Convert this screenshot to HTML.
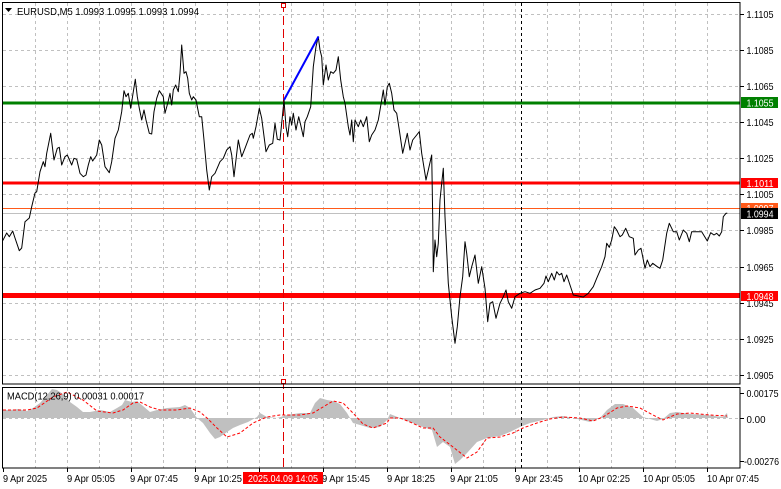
<!DOCTYPE html>
<html><head><meta charset="utf-8"><style>
html,body{margin:0;padding:0;background:#fff;}
svg{display:block;}
text{font-family:"Liberation Sans",sans-serif;}
</style></head><body>
<svg width="781" height="489" viewBox="0 0 781 489" xmlns="http://www.w3.org/2000/svg">
<rect x="0" y="0" width="781" height="489" fill="#fff"/>
<!-- vertical grid -->
<g stroke="#c0c0c0" stroke-width="1" stroke-dasharray="3,3" fill="none">
<path d="M35.5 3V384M67.5 3V384M99.5 3V384M131.5 3V384M163.5 3V384M195.5 3V384M227.5 3V384M259.5 3V384M291.5 3V384M323.5 3V384M355.5 3V384M387.5 3V384M419.5 3V384M451.5 3V384M483.5 3V384M515.5 3V384M547.5 3V384M579.5 3V384M611.5 3V384M643.5 3V384M675.5 3V384M707.5 3V384"/>
<path d="M35.5 388V468M67.5 388V468M99.5 388V468M131.5 388V468M163.5 388V468M195.5 388V468M227.5 388V468M259.5 388V468M291.5 388V468M323.5 388V468M355.5 388V468M387.5 388V468M419.5 388V468M451.5 388V468M483.5 388V468M515.5 388V468M547.5 388V468M579.5 388V468M611.5 388V468M643.5 388V468M675.5 388V468M707.5 388V468"/>
<path d="M3 14.5H740M3 50.5H740M3 86.5H740M3 122.5H740M3 158.5H740M3 194.5H740M3 230.5H740M3 267.5H740M3 303.5H740M3 339.5H740M3 375.5H740"/>
<path d="M3 418.5H740"/>
</g>
<!-- MACD histogram -->
<polygon fill="#c0c0c0" points="2,418 2,410 10,410 18,409 27,411 33,408 40,403 47,395 52,389 57,390 63,394 70,402 77,407 83,412 90,412 100,410 110,412 117,408 122,405 125,400 132,402 137,401 143,406 150,412 157,410 167,408 180,407 185,405 190,408 197,418 203,423 210,433 215,439 220,437 227,432 233,428 240,425 248,422 257,417 260,413 267,417 277,418 287,415 300,413 310,413 315,403 320,398 327,400 333,401 340,404 347,413 353,423 360,425 370,428 380,427 387,420 390,414 400,418 410,422 423,427 432,430 437,447 443,442 450,447 455,464 460,460 467,453 477,442 487,438 500,436 510,432 520,427 530,423 543,420 553,417 563,416 573,418 590,422 600,418 607,410 615,404 623,404 633,408 643,417 657,421 663,419 670,413 677,412 690,414 707,415 723,417 727,413 728,418"/>
<!-- MACD signal -->
<polyline fill="none" stroke="#ff0000" stroke-width="1" stroke-dasharray="3,2" points="3,410 27,410 37,408 53,397 67,392 83,400 97,411 113,413 123,410 133,403 140,402 150,407 160,410 177,410 190,408 200,412 207,418 217,428 227,437 240,433 253,423 267,417 280,415 300,415 313,413 323,407 333,401 343,403 353,413 363,424 373,428 387,423 390,418 400,418 410,422 423,428 433,428 440,437 453,447 467,458 477,452 487,438 500,437 513,433 523,428 537,423 550,419 563,417 580,418 593,421 603,417 617,408 627,406 640,408 653,415 663,420 677,414 690,413 710,415 727,416"/>
<!-- level lines -->
<line x1="3" y1="103" x2="740" y2="103" stroke="#008000" stroke-width="3"/>
<line x1="3" y1="183" x2="740" y2="183" stroke="#ff0000" stroke-width="3"/>
<line x1="3" y1="208.5" x2="740" y2="208.5" stroke="#ff5a1a" stroke-width="1"/>
<line x1="3" y1="213.5" x2="740" y2="213.5" stroke="#c0c0c0" stroke-width="1"/>
<line x1="3" y1="295.5" x2="740" y2="295.5" stroke="#ff0000" stroke-width="5"/>
<!-- crosshair / separators -->
<line x1="283.5" y1="3" x2="283.5" y2="468" stroke="#e00000" stroke-width="1" stroke-dasharray="9,4"/>
<rect x="281.5" y="3.5" width="4" height="4" fill="#fff" stroke="#e00000"/>
<rect x="281.5" y="379.5" width="4" height="4" fill="#fff" stroke="#e00000"/>
<line x1="521.5" y1="3" x2="521.5" y2="468" stroke="#000" stroke-width="1" stroke-dasharray="3,3"/>
<!-- price line -->
<polyline fill="none" stroke="#000" stroke-width="1" stroke-linejoin="round" points="2.7,240.7 6.7,233 9.3,236.7 12.7,231 15,238 19.3,250.7 21.7,248 25,221.7 29.3,218 31.7,206.7 35,193 36.7,191.7 40,171.7 43.3,161.7 45,166.7 46.7,153.3 50.7,133.3 54,160 57.3,148.3 59.3,147.3 61.7,165 65,156.7 67.3,155 71.7,165 74,158.3 76.7,159.3 80,173.3 83.3,176.7 86,175 88.3,165 90.7,156.7 92.7,161 96.7,155 99.3,140 101.7,145 105,166.7 109.3,172.7 111.7,161.7 115,138.3 118.3,130 121.7,111.7 124,90.7 126,96.7 128.3,93.3 130.7,108.3 133.3,91.7 135.3,79.3 137.3,96.7 139.3,108.3 141.7,120 144,110 146,120 149.3,133.3 151.7,134 154,111.7 156.7,98.3 159.3,90.7 163.3,96.7 165,113.3 167.7,103.3 170,93.3 171.7,105 173.3,90 175.7,85 178.3,91.7 180,73.3 181.7,45 184,73.3 186,71.7 187.7,78.3 189.3,93.3 191.7,100 193.3,96.7 196,100 199.3,116.7 201.7,116.7 204,140 206.7,170 209.3,190 211.7,176.7 215,173.3 220,161.7 223.3,158.3 226.7,150 230,146.7 231.7,155 234,176.7 238.3,140 241.7,156.7 245,148.3 250,135 252.3,133.3 253.3,138.3 256,126.7 259.3,108.3 261.7,118.3 266,151.7 269.3,145 272.7,143.3 275,123.3 277.3,139.3 280,140 282.7,113.3 284,100 286,126.7 287.7,136.7 290,116.7 291.7,125 293.3,113.3 296,130 298.7,116.7 300.7,125 303.3,136.7 305,121.7 307.3,116.7 310.7,106.7 313.3,66.7 316,46.7 318.3,36.7 320,50 321.7,56.7 323.3,85 326,65 328.3,80 330.7,71.7 333.3,73.3 336,70 338.3,56.7 340.7,80 343.3,96.7 345,103.3 348.3,126.7 350,135 351.7,120 353.3,141.7 355,120 358.3,126.7 360.7,120 363.3,126.7 366.7,116.7 369.3,141.7 371.7,135 375,130 378.3,120 381.7,100 383.3,90 385,105 387.3,86.7 389.3,83.3 391.7,93.3 394,110 396.7,113.3 399.3,130 402.7,153.3 405,143.3 407.3,133.3 410,150 412.7,140 416.7,135 419.3,131.7 421.7,153.3 426,180 428.3,170 431.7,155 432.7,216.7 433.3,271.7 435,240 436.7,256.7 438.3,243.3 440,200 441.7,183.3 443.3,168.3 445,216.7 448.3,283.3 451.7,316.7 455,343.3 457.3,326.7 460,296.7 462.7,276.7 465,241.7 466.7,253.3 469.3,276.7 471.7,266.7 475,255 478.3,283.3 481.7,266.7 485,288.3 487.7,321.7 490,303.3 492.7,301.7 496,318.3 500,303.3 503.3,296.7 506,290 508.3,301.7 511.7,308.3 515,296.7 520,293.3 525,291.7 530,293.3 535,290 540,288.3 544,283.3 546,276 548.3,281.7 551.7,273.3 554.3,280 556.7,271.7 559.3,275 561.7,273.3 564,281.7 566.7,275 570,285 573.3,295 578.3,296 583.3,297 588.3,293.3 593.3,286.7 596.7,278.3 601.7,266.7 605,256.7 606.7,243.3 609.3,247.3 611.7,240 614.3,226.7 616.7,230 620,236.7 622.3,235 625.7,228.3 629.3,236.7 633.3,238.3 635,255 638.3,250 641,248.3 642.7,256.7 645,268.3 647.3,260 650,266.7 652.7,263.3 657.3,266.7 660,268.3 662.7,260 666.7,233.3 669.3,223.3 673.3,231.7 676.7,231.7 679.3,240 683.3,230 686.7,233.3 689.3,241.7 691.7,231.7 696.7,231.7 701.7,231.7 707.3,241 710.7,232.7 714,235 716.7,233.3 719.3,236 721.7,231.7 723.3,216.7 726,213.3 727.3,213.3"/>
<!-- blue trend line -->
<line x1="284" y1="100" x2="318.5" y2="36.5" stroke="#0000ff" stroke-width="2"/>
<!-- frames -->
<rect x="2.5" y="2.5" width="737.5" height="381.5" fill="none" stroke="#000" stroke-width="1"/>
<rect x="2.5" y="387.5" width="737.5" height="80.5" fill="none" stroke="#000" stroke-width="1"/>
<!-- right axis ticks -->
<g stroke="#000" stroke-width="1">
<path d="M740 14.5H744M740 50.5H744M740 86.5H744M740 122.5H744M740 158.5H744M740 194.5H744M740 230.5H744M740 267.5H744M740 303.5H744M740 339.5H744M740 375.5H744M740 393.5H744M740 418.5H744M740 461.5H744"/>
<path d="M3.5 468V472M67.5 468V472M131.5 468V472M195.5 468V472M259.5 468V472M323.5 468V472M387.5 468V472M451.5 468V472M515.5 468V472M579.5 468V472M643.5 468V472M707.5 468V472"/>
</g>
<!-- right axis labels -->
<g font-size="10.5" fill="#000">
<text x="746.5" y="18" textLength="27" lengthAdjust="spacingAndGlyphs">1.1105</text>
<text x="746.5" y="54" textLength="27" lengthAdjust="spacingAndGlyphs">1.1085</text>
<text x="746.5" y="90" textLength="27" lengthAdjust="spacingAndGlyphs">1.1065</text>
<text x="746.5" y="126" textLength="27" lengthAdjust="spacingAndGlyphs">1.1045</text>
<text x="746.5" y="162" textLength="27" lengthAdjust="spacingAndGlyphs">1.1025</text>
<text x="746.5" y="198" textLength="27" lengthAdjust="spacingAndGlyphs">1.1005</text>
<text x="746.5" y="234" textLength="27" lengthAdjust="spacingAndGlyphs">1.0985</text>
<text x="746.5" y="271" textLength="27" lengthAdjust="spacingAndGlyphs">1.0965</text>
<text x="746.5" y="307" textLength="27" lengthAdjust="spacingAndGlyphs">1.0945</text>
<text x="746.5" y="343" textLength="27" lengthAdjust="spacingAndGlyphs">1.0925</text>
<text x="746.5" y="379" textLength="27" lengthAdjust="spacingAndGlyphs">1.0905</text>
<text x="746.5" y="397" textLength="32" lengthAdjust="spacingAndGlyphs">0.00175</text>
<text x="746.5" y="423" textLength="19" lengthAdjust="spacingAndGlyphs">0.00</text>
<text x="744" y="465" textLength="35" lengthAdjust="spacingAndGlyphs">-0.00276</text>
</g>
<!-- price boxes -->
<rect x="741" y="97" width="37" height="11" fill="#008000"/>
<text x="746.5" y="106.5" font-size="10.5" fill="#fff" textLength="27" lengthAdjust="spacingAndGlyphs">1.1055</text>
<rect x="741" y="178" width="37" height="10" fill="#ff0000"/>
<text x="746.5" y="187" font-size="10.5" fill="#fff" textLength="27" lengthAdjust="spacingAndGlyphs">1.1011</text>
<rect x="741" y="203" width="37" height="10" fill="#ff5a1a"/>
<text x="746.5" y="212" font-size="10.5" fill="#fff" textLength="27" lengthAdjust="spacingAndGlyphs">1.0997</text>
<rect x="741" y="208" width="37" height="11" fill="#000"/>
<text x="746.5" y="217.5" font-size="10.5" fill="#fff" textLength="27" lengthAdjust="spacingAndGlyphs">1.0994</text>
<rect x="741" y="291" width="37" height="10" fill="#ff0000"/>
<text x="746.5" y="300" font-size="10.5" fill="#fff" textLength="27" lengthAdjust="spacingAndGlyphs">1.0948</text>
<!-- header -->
<polygon points="5,8 12,8 8.5,12" fill="#000"/>
<text x="17" y="15" font-size="10.5" fill="#000" textLength="182" lengthAdjust="spacingAndGlyphs">EURUSD,M5  1.0993 1.0995 1.0993 1.0994</text>
<text x="7" y="399.5" font-size="10.5" fill="#000" textLength="137" lengthAdjust="spacingAndGlyphs">MACD(12,26,9) 0.00031 0.00017</text>
<!-- time labels -->
<g font-size="10.5" fill="#000">
<text x="3" y="482" textLength="44" lengthAdjust="spacingAndGlyphs">9 Apr 2025</text>
<text x="67" y="482" textLength="48" lengthAdjust="spacingAndGlyphs">9 Apr 05:05</text>
<text x="130" y="482" textLength="48" lengthAdjust="spacingAndGlyphs">9 Apr 07:45</text>
<text x="194" y="482" textLength="48" lengthAdjust="spacingAndGlyphs">9 Apr 10:25</text>
<text x="322" y="482" textLength="48" lengthAdjust="spacingAndGlyphs">9 Apr 15:45</text>
<text x="387" y="482" textLength="48" lengthAdjust="spacingAndGlyphs">9 Apr 18:25</text>
<text x="450" y="482" textLength="48" lengthAdjust="spacingAndGlyphs">9 Apr 21:05</text>
<text x="515" y="482" textLength="48" lengthAdjust="spacingAndGlyphs">9 Apr 23:45</text>
<text x="578" y="482" textLength="52" lengthAdjust="spacingAndGlyphs">10 Apr 02:25</text>
<text x="643" y="482" textLength="52" lengthAdjust="spacingAndGlyphs">10 Apr 05:05</text>
<text x="707" y="482" textLength="52" lengthAdjust="spacingAndGlyphs">10 Apr 07:45</text>
</g>
<rect x="243" y="472" width="80" height="12" fill="#ff0000"/>
<text x="248" y="482" font-size="10.5" fill="#fff" textLength="70" lengthAdjust="spacingAndGlyphs">2025.04.09 14:05</text>
</svg>
</body></html>
